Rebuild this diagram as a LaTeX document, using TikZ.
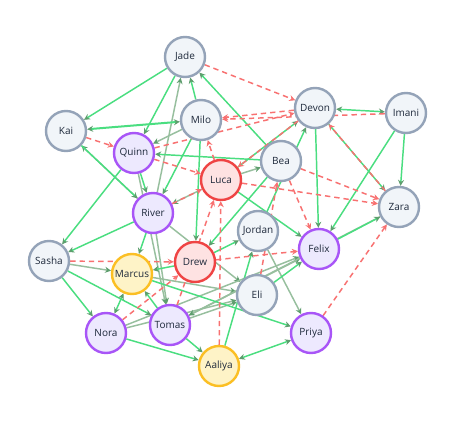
\documentclass[tikz,border=0pt]{standalone}
\usepackage{fontspec}
\setmainfont{Open Sans}
\usepackage{tikz}
\usetikzlibrary{arrows.meta,backgrounds}
\definecolor{slateline}{HTML}{94A3B8}
\definecolor{slatefill}{HTML}{F1F5F9}
\definecolor{violetline}{HTML}{A855F7}
\definecolor{violetfill}{HTML}{EDE9FE}
\definecolor{redline}{HTML}{EF4444}
\definecolor{redfill}{HTML}{FEE2E2}
\definecolor{amberline}{HTML}{FBBF24}
\definecolor{amberfill}{HTML}{FEF3C7}
\definecolor{tiegreen}{HTML}{4ADE80}
\definecolor{tiegray}{HTML}{97BF9E}
\definecolor{tipgreen}{HTML}{5E9E6E}
\definecolor{riftred}{HTML}{F87171}
\definecolor{labeltext}{HTML}{1E293B}
\tikzset{
    %Define style for people
    neutral/.style={
           circle,
           draw=slateline, line width=1.8pt,
           minimum size=30pt,
           inner sep=0pt,
           font=\fontsize{7.5}{9}\selectfont,
           text=labeltext,
           fill=slatefill},
    core/.style={neutral, draw=violetline, fill=violetfill},
    risk/.style={neutral, draw=redline, fill=redfill},
    hub/.style={neutral, draw=amberline, fill=amberfill},
    % Define edge styles
    tie/.style={
           >={Stealth[length=4.5pt,width=4.5pt,color=tipgreen]},
           ->,
           draw=tiegreen, line width=1.1pt},
    weak/.style={tie, draw=tiegray},
    rift/.style={
           >={Stealth[length=4.5pt,width=4.5pt,color=riftred]},
           ->,
           draw=riftred, line width=1.1pt,
           dash pattern=on 4pt off 3pt}
}
\begin{document}
\begin{tikzpicture}[x=0.75pt,y=-0.75pt]
\useasboundingbox (0,0) rectangle (461,439);
\node[neutral] (jade) at (185,57) {Jade};
\node[neutral] (kai) at (66,131) {Kai};
\node[neutral] (milo) at (201,120) {Milo};
\node[core] (quinn) at (134,153) {Quinn};
\node[neutral] (devon) at (315,108) {Devon};
\node[neutral] (imani) at (406,113) {Imani};
\node[neutral] (bea) at (281,161) {Bea};
\node[risk] (luca) at (221,180) {Luca};
\node[neutral] (zara) at (399,207) {Zara};
\node[core] (river) at (153,213) {River};
\node[neutral] (jordan) at (258,231) {Jordan};
\node[core] (felix) at (319,249) {Felix};
\node[neutral] (sasha) at (49,261) {Sasha};
\node[hub] (marcus) at (132,274) {Marcus};
\node[risk] (drew) at (195,262) {Drew};
\node[neutral] (eli) at (257,295) {Eli};
\node[core] (tomas) at (170,325) {Tomas};
\node[core] (nora) at (106,333) {Nora};
\node[core] (priya) at (311,333) {Priya};
\node[hub] (aaliya) at (219,366) {Aaliya};

\begin{pgfonlayer}{background}
\fill[white] (0,0) rectangle (461,439);
% muted ties
\path[weak] (river) edge (jade) edge (kai) edge (tomas) edge (eli)
    (milo) edge (quinn)
    (quinn) edge (tomas)
    (luca) edge (river) edge (bea)
    (sasha) edge (marcus)
    (marcus) edge (eli)
    (tomas) edge (eli) edge (felix)
    (nora) edge (eli) edge (felix)
    (jordan) edge (priya)
    (zara) edge (tomas);
% strong ties
\path[tie] (jade) edge (kai) edge (quinn)
    (milo) edge[<->, line width=1.5pt] (kai) edge (jade) edge (river) edge (drew)
    (bea) edge (jade) edge (quinn) edge (drew)
    (kai) edge (river)
    (quinn) edge (river) edge (sasha)
    (river) edge (sasha) edge (marcus)
    (luca) edge (felix) edge (devon)
    (devon) edge (felix) edge[<->] (imani) edge (zara)
    (imani) edge (zara) edge (felix)
    (felix) edge (zara)
    (jordan) edge (devon)
    (drew) edge (jordan) edge (marcus)
    (aaliya) edge (jordan)
    (eli) edge (felix)
    (marcus) edge (priya)
    (sasha) edge (nora) edge (tomas)
    (marcus) edge[<->] (nora)
    (tomas) edge (marcus) edge (aaliya)
    (nora) edge (aaliya)
    (aaliya) edge[<->] (priya);
% conflicts
\path[rift] (jade) edge (devon)
    (devon) edge (milo) edge (luca)
    (imani) edge (milo)
    (quinn) edge (devon) edge (luca)
    (kai) edge (quinn)
    (river) edge (luca)
    (luca) edge (milo) edge (zara)
    (bea) edge (zara) edge (felix)
    (zara) edge (devon)
    (aaliya) edge (luca)
    (eli) edge (bea)
    (drew) edge (felix)
    (sasha) edge (drew)
    (nora) edge (drew)
    (tomas) edge (luca)
    (priya) edge (zara);
\end{pgfonlayer}
\end{tikzpicture}
\end{document}
